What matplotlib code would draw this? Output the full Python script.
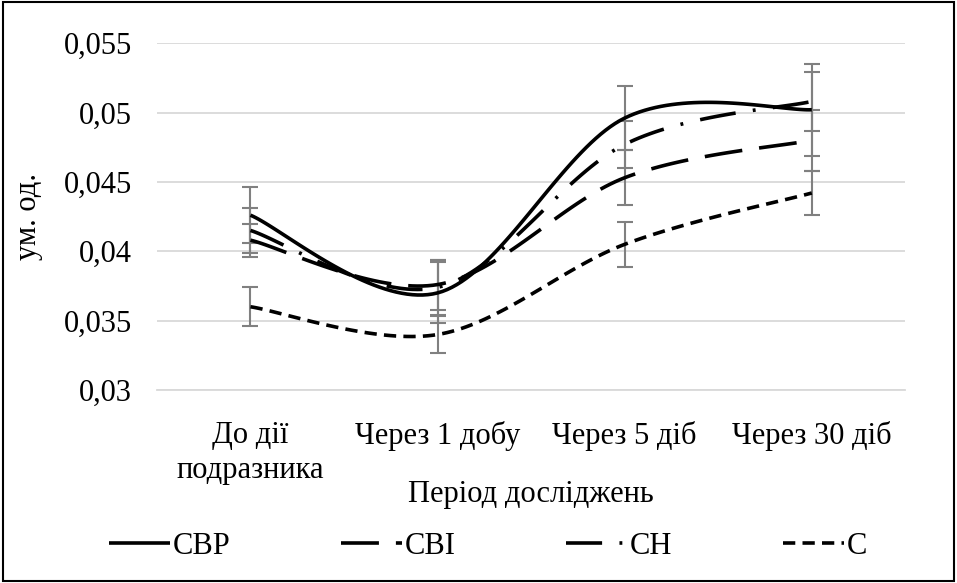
import numpy as np
import matplotlib
matplotlib.use("Agg")
from matplotlib import pyplot as plt

plt.rcParams['font.family'] = ['Liberation Serif', 'DejaVu Serif']

# дані
periods = ["До дії\nподразника", "Через 1 добу", "Через 5 діб", "Через 30 діб"]
cvr = [0.0426, 0.0370, 0.0496, 0.0502]
cvi = [0.0408, 0.0376, 0.0453, 0.0480]
cn = [0.0415, 0.0374, 0.0477, 0.0508]
c = [0.0360, 0.0340, 0.0405, 0.0442]
err_cvr = [0.0020, 0.0022, 0.0023, 0.0033]
err_cvi = [0.0012, 0.0018, 0.0020, 0.0022]
err_cn = [0.0016, 0.0020, 0.0017, 0.0021]
err_c = [0.0014, 0.0013, 0.0016, 0.0016]

series = [
    ("СВР", cvr, err_cvr, (0, ())),
    ("СВІ", cvi, err_cvi, (0, (10.5, 4.7))),
    ("СН", cn, err_cn, (0, (10, 4.8, 0.8, 4.8))),
    ("С", c, err_c, (0, (3.4, 2.0))),
]


def smooth(y, n=40):
    # згладжування як в Excel (криві Безьє)
    x = np.arange(len(y), dtype=float)
    y = np.asarray(y, dtype=float)
    xs, ys = [], []
    for i in range(len(y) - 1):
        p0 = np.array([x[max(i - 1, 0)], y[max(i - 1, 0)]])
        p1 = np.array([x[i], y[i]])
        p2 = np.array([x[i + 1], y[i + 1]])
        p3 = np.array([x[min(i + 2, len(y) - 1)], y[min(i + 2, len(y) - 1)]])
        c1 = p1 + (p2 - p0) / 6
        c2 = p2 - (p3 - p1) / 6
        t = np.linspace(0, 1, n)[:, None]
        b = (1 - t) ** 3 * p1 + 3 * (1 - t) ** 2 * t * c1 + 3 * (1 - t) * t ** 2 * c2 + t ** 3 * p2
        xs.extend(b[:, 0])
        ys.extend(b[:, 1])
    return np.array(xs), np.array(ys)


fig = plt.figure(figsize=(9.57, 5.83), dpi=100)
ax = fig.add_axes([0.164, 0.331, 0.782, 0.595])

xi = np.arange(len(periods))
for name, vals, err, ls in series:
    ax.errorbar(xi, vals, yerr=err, fmt='none', ecolor='#808080', elinewidth=1.5,
                capsize=6, capthick=1.5, zorder=2)
for name, vals, err, ls in series:
    sx, sy = smooth(vals)
    ax.plot(sx, sy, color='black', lw=2.6, linestyle=ls, label=name, zorder=3,
            dash_capstyle='butt')

fs = 22
ax.set_xlim(-0.5, 3.5)
ax.set_ylim(0.03, 0.055)
ax.set_yticks([0.03, 0.035, 0.04, 0.045, 0.05, 0.055])
ax.set_yticklabels(["0,03", "0,035", "0,04", "0,045", "0,05", "0,055"], fontsize=fs)
ax.set_xticks(xi)
ax.set_xticklabels(periods, fontsize=fs, linespacing=1.3)
ax.tick_params(axis='x', length=0, pad=22)
ax.tick_params(axis='y', length=0, pad=18)
ax.yaxis.grid(True, color='#d9d9d9', lw=1.3)
ax.set_axisbelow(True)
for s in ax.spines.values():
    s.set_visible(False)
ax.spines['bottom'].set_visible(True)
ax.spines['bottom'].set_color('#d9d9d9')
ax.spines['bottom'].set_linewidth(1.3)

ax.set_xlabel("Період досліджень", fontsize=fs, labelpad=-4)
ax.set_ylabel("ум. од.", fontsize=fs)
ax.yaxis.set_label_coords(-0.152, 0.5)

fig.legend(loc='center', bbox_to_anchor=(0.51, 0.063), ncol=4, frameon=False,
           fontsize=fs, handlelength=2.0, handletextpad=0.1, columnspacing=3.6)

fig.patches.append(plt.Rectangle((0.003, 0.003), 0.994, 0.994, transform=fig.transFigure,
                                 fill=False, edgecolor='black', lw=1.5))

fig.savefig("out.png", dpi=100)
